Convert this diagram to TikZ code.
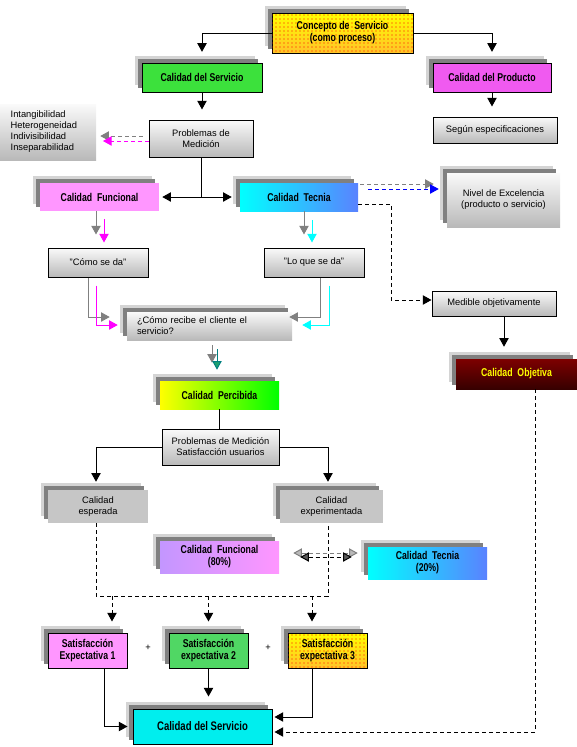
\documentclass[tikz,border=0pt]{standalone}
\usepackage{fontspec}
\setmainfont{Liberation Sans}
\newfontfamily\condfont[FakeStretch=0.77]{Liberation Sans}
\usetikzlibrary{arrows.meta,shadows,calc,patterns}
\definecolor{cyel}{RGB}{255,255,0}
\definecolor{ccyan}{RGB}{0,255,255}
\definecolor{cmg}{RGB}{255,0,255}
\definecolor{cblue}{RGB}{0,0,255}
\definecolor{cgreen}{RGB}{60,225,60}
\definecolor{cgreenp}{RGB}{0,255,0}
\definecolor{cmag}{RGB}{240,90,240}
\definecolor{lmag}{RGB}{255,150,255}
\definecolor{dred}{RGB}{125,0,0}
\definecolor{dred2}{RGB}{55,0,0}
\definecolor{bsh}{RGB}{128,128,128}
\definecolor{lsh}{RGB}{212,212,212}
\definecolor{cyel2}{RGB}{255,195,40}
\definecolor{ctealx}{RGB}{0,128,128}
\definecolor{ctealh}{RGB}{30,160,110}
\definecolor{cblu}{RGB}{90,130,255}
\definecolor{cpur}{RGB}{195,150,255}
\definecolor{cgr2}{RGB}{80,215,100}
\definecolor{ccy}{RGB}{0,238,238}
\newcommand\mybf{\condfont\bfseries\fontsize{8.5}{9}\selectfont}
\newcommand\mybig{\condfont\bfseries\fontsize{9.3}{10}\selectfont}
\newcommand\mynf{\fontsize{7}{8.25}\selectfont}
\newcommand\bxnode[7]{%
  \pgfmathsetmacro\bxcx{(#2+#4)/2}%
  \pgfmathsetmacro\bxcy{(#3+#5)/2}%
  \pgfmathsetmacro\bxw{(#4-#2)*0.75}%
  \pgfmathsetmacro\bxh{(#5-#3)*0.75}%
  \node[boxbase,#6,minimum width=\bxw pt,minimum height=\bxh pt] (#1) at (\bxcx,\bxcy) {#7};}
\begin{document}
\begin{tikzpicture}[x=0.75pt,y=-0.75pt,
  boxbase/.style={inner sep=0pt,align=center,font=\mybf},
  nf/.style={font=\mynf},
  bord/.style={draw=black,line width=0.75pt},
  shd/.style={general shadow={fill=lsh,shadow xshift=-5.25pt,shadow yshift=5.25pt},
              general shadow={fill=bsh,shadow xshift=-3pt,shadow yshift=3pt}},
  ggrad/.style={top color=gray!4,bottom color=gray!55},
  conn/.style={line width=0.75pt,draw=black},
  arr/.style={conn,-{Triangle[width=7pt,length=6.5pt]}},
  arrboth/.style={conn,{Triangle[width=7pt,length=6.5pt]}-{Triangle[width=7pt,length=6.5pt]}},
  garr/.style={line width=0.75pt,draw=bsh,-{Triangle[width=7pt,length=6.5pt]}},
  marr/.style={line width=0.75pt,draw=cmg,-{Triangle[width=7pt,length=6.5pt]}},
  carr/.style={line width=0.75pt,draw=ccyan,-{Triangle[width=7pt,length=6.5pt]}},
  barr/.style={line width=0.75pt,draw=cblue,-{Triangle[width=7pt,length=6.5pt]}},
  tarr/.style={line width=0.75pt,draw=ctealx,-{Triangle[width=7pt,length=6.5pt,fill=ctealh]}},
  kd/.style={dash pattern=on 3pt off 2.25pt},
  plus/.style={font=\mynf,inner sep=0pt}]
\useasboundingbox (0,0) rectangle (577,747);

% ---------- boxes ----------
\bxnode{conc}{272}{13}{413}{53}{bord,shd,top color=cyel,bottom color=cyel2,postaction={pattern=dots,pattern color=red}}{Concepto de \ Servicio\\(como proceso)}
\bxnode{serv}{142}{63}{262}{92}{bord,shd,fill=cgreen}{Calidad del Servicio}
\bxnode{prod}{433}{63}{551}{92}{bord,shd,fill=cmag}{Calidad del Producto}
\bxnode{segun}{433}{117}{557}{143}{bord,ggrad,nf}{Según especificaciones}
\bxnode{prob1}{149}{120}{253}{157}{bord,ggrad,nf}{Problemas de\\Medición}
\bxnode{intang}{0}{104}{96}{160}{ggrad,nf,align=left,text width=56pt}{Intangibilidad\\Heterogeneidad\\Indivisibilidad\\Inseparabilidad}
\bxnode{func}{40}{183}{159}{211}{shd,fill=lmag}{Calidad \ Funcional}
\bxnode{tec}{240}{183}{358}{211}{shd,left color=ccyan,right color=cblu}{Calidad \ Tecnia}
\bxnode{nivel}{447}{173}{560}{227}{shd,ggrad,nf}{Nivel de Excelencia\\(producto o servicio)}
\bxnode{comoda}{48}{248}{148}{277}{bord,ggrad,nf}{"Cómo se da"}
\bxnode{loque}{264}{248}{364}{277}{bord,ggrad,nf}{"Lo que se da"}
\bxnode{med}{432}{291}{556}{316}{bord,ggrad,nf}{Medible objetivamente}
\bxnode{recibe}{127}{312}{292}{340}{shd,ggrad,nf,align=left,text width=108.75pt}{¿Cómo recibe el cliente el\\servicio?}
\bxnode{obj}{456}{359}{577}{389}{shd,top color=dred,bottom color=dred2,text=cyel}{Calidad \ Objetiva}
\bxnode{percib}{160}{381}{279}{409}{shd,left color=cyel,right color=cgreenp}{Calidad \ Percibida}
\bxnode{prob2}{162}{429}{279}{465}{bord,ggrad,nf}{Problemas de Medición\\Satisfacción usuarios}
\bxnode{esp}{48}{490}{148}{523}{shd,fill=gray!45,nf}{Calidad\\esperada}
\bxnode{exp}{280}{490}{383}{523}{shd,fill=gray!45,nf}{Calidad\\experimentada}
\bxnode{f80}{160}{541}{279}{573}{shd,left color=cpur,right color=lmag}{Calidad \ Funcional\\(80\%)}
\bxnode{t20}{368}{547}{487}{579}{shd,left color=ccyan,right color=cblu}{Calidad \ Tecnia\\(20\%)}
\bxnode{s1}{48}{633}{127}{668}{bord,shd,fill=lmag}{Satisfacción\\Expectativa 1}
\bxnode{s2}{169}{633}{248}{668}{bord,shd,fill=cgr2}{Satisfacción\\expectativa 2}
\bxnode{s3}{288}{633}{367}{668}{bord,shd,top color=cyel,bottom color=cyel2,postaction={pattern=dots,pattern color=red}}{Satisfacción\\expectativa 3}
\bxnode{srv}{133}{709}{272}{744}{bord,shd,fill=ccy,font=\mybig}{Calidad del Servicio}
\node[plus] (p1) at (148,648) {+};
\node[plus] (p2) at (268,648) {+};
\coordinate (bar) at (212,596);

% ---------- connectors ----------
\draw[arr,shorten >=8pt] (conc.west) -| (serv.north);
\draw[arr,shorten >=8pt] (conc.east) -| (prod.north);
\draw[arr,shorten >=7.5pt] (serv.south) -- (serv.south |- prob1.north);
\draw[arr,shorten >=7.5pt] (prod.south) -- (prod.south |- segun.north);
\draw[garr,kd,shorten <=4.5pt,shorten >=3pt] ($(prob1.west)+(0,-2.5)$) -- ($(prob1.west -| intang.east)+(0,-2.5)$);
\draw[marr,kd,shorten >=5pt] ($(prob1.west)+(0,2.5)$) -- ($(prob1.west -| intang.east)+(0,2.5)$);
\draw[conn] (prob1.south) -- (prob1.south |- func.east);
\draw[arrboth,shorten <=2.25pt,shorten >=6pt] (func.east) -- (tec.west);
% Funcional -> Como se da
\draw[garr,shorten >=9.75pt] ($(func.south)+(-3.5,0)$) -- ($(comoda.north)+(-2,0)$);
\draw[marr,shorten <=6pt,shorten >=3.75pt] ($(func.south)+(4.5,0)$) -- ($(comoda.north)+(6,0)$);
% Tecnica -> Lo que se da
\draw[garr,shorten >=9.75pt] ($(tec.south)+(5,0)$) -- ($(loque.north)+(-10,0)$);
\draw[carr,shorten <=6.75pt,shorten >=3.75pt] ($(tec.south)+(13,0)$) -- ($(loque.north)+(-2,0)$);
% -> Como recibe
\draw[garr,shorten >=12.75pt] ($(comoda.south)+(-10,0)$) |- ($(recibe.west)+(0,-9)$);
\draw[marr,shorten <=6pt,shorten >=6.75pt] ($(comoda.south)+(-2,0)$) |- ($(recibe.west)+(0,-1)$);
\draw[garr,shorten >=-2.25pt] ($(loque.south)+(6,0)$) |- ($(recibe.east)+(0,-9)$);
\draw[carr,shorten <=6pt,shorten >=7.5pt] ($(loque.south)+(15,0)$) |- ($(recibe.east)+(0,-1)$);
% Como recibe -> Percibida
\draw[garr,shorten <=3.75pt,shorten >=13.5pt] ($(recibe.south)+(2.5,0)$) -- ($(percib.north)+(-7.5,0)$);
\draw[tarr,shorten <=6.75pt,shorten >=8.25pt] ($(recibe.south)+(7.5,0)$) -- ($(percib.north)+(-2.5,0)$);
\draw[conn] (percib.south) -- (percib.south |- prob2.north);
\draw[arr,shorten >=6pt] (prob2.west) -| ($(esp.north)+(-2,0)$);
\draw[arr,shorten >=6pt] (prob2.east) -| ($(exp.north)+(-3.5,0)$);
% Tecnica -> Nivel / Medible
\draw[garr,kd,shorten >=9.75pt] ($(tec.east)+(2,-13)$) -- ($(tec.east -| nivel.west)+(0,-13)$);
\draw[barr,kd,shorten <=7.5pt,shorten >=6pt] ($(tec.east)+(0,-8)$) -- ($(tec.east -| nivel.west)+(0,-8)$);
\draw[arr,kd] ($(tec.east)+(0,7)$) -- ++(33,0) |- ($(med.west)+(0,-3.5)$);
\draw[arr,shorten >=9pt] ($(med.south)+(10,0)$) -- ($(med.south |- obj.north)+(10,0)$);
% esperada / experimentada dashed
\draw[conn,kd] ($(esp.south)+(-2,0)$) |- (bar) -| ($(exp.south)+(-3.5,0)$);
\draw[arr,kd,shorten >=8.25pt] ($(s1.north |- bar)+(24.5,0)$) -- ($(s1.north)+(24.5,0)$);
\draw[arr,kd,shorten >=8.25pt] (s2.north |- bar) -- (s2.north);
\draw[arr,kd,shorten >=8.25pt] ($(s3.north |- bar)+(-15.5,0)$) -- ($(s3.north)+(-15.5,0)$);
% Funcional 80 <-> Tecnica 20
\draw[line width=0.75pt,draw=bsh,kd,{Triangle[width=7pt,length=6.5pt,fill=gray!55]}-{Triangle[width=7pt,length=6.5pt,fill=gray!55]},shorten <=10.5pt,shorten >=7.5pt] ($(f80.east)+(0,-4)$) -- ($(f80.east -| t20.west)+(0,-4)$);
\draw[line width=0.75pt,draw=black,kd,{Triangle[width=7pt,length=6.5pt,fill=gray!70!black]}-{Triangle[width=7pt,length=6.5pt,fill=gray!70!black]},shorten <=15.75pt,shorten >=12pt] (f80.east) -- (f80.east -| t20.west);
% -> Calidad del Servicio
\draw[arr,shorten >=3.75pt] ($(s1.south)+(16.5,0)$) |- (srv.west);
\draw[arr,shorten >=9pt] (s2.south) -- (s2.south |- srv.north);
\draw[arr,shorten >=1.5pt] ($(s3.south)+(-15.5,0)$) |- ($(srv.east)+(0,-9.5)$);
\draw[arr,kd,shorten >=1.5pt] ($(obj.south)+(18.5,0)$) |- ($(srv.east)+(0,5.5)$);
\end{tikzpicture}
\end{document}
